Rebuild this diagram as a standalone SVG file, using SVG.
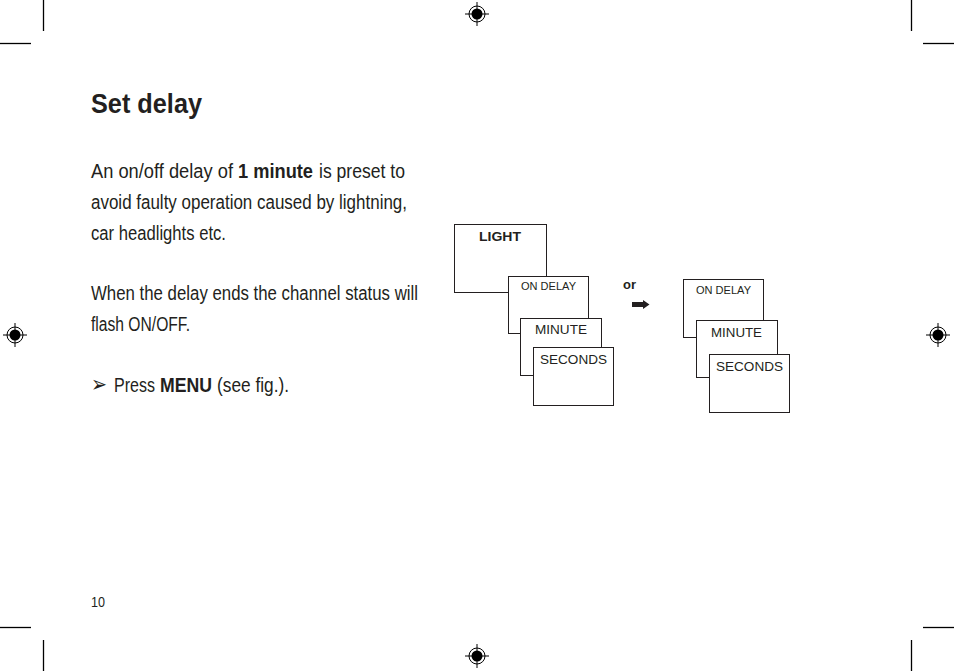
<svg xmlns="http://www.w3.org/2000/svg" width="954" height="671" viewBox="0 0 954 671">
<style>
.crop{stroke:#000;stroke-width:1.3;fill:none}
.body{font-family:"Liberation Sans",Arial,sans-serif;font-size:19.5px;fill:#231f20}
.b{font-weight:bold}
.box{fill:#fff;stroke:#231f20;stroke-width:1}
.lbl{font-family:"Liberation Sans",Arial,sans-serif;fill:#231f20}
</style>
<defs>
<g id="reg">
<circle cx="0" cy="0" r="8" fill="none" stroke="#000" stroke-width="1"/>
<circle cx="0" cy="0" r="5.5" fill="#000"/>
<line x1="-12" y1="0" x2="12" y2="0" stroke="#000" stroke-width="1"/>
<line x1="0" y1="-12" x2="0" y2="12" stroke="#000" stroke-width="1"/>
</g>
</defs>
<rect width="954" height="671" fill="#fff"/>
<g id="cropmarks">
<line class="crop" x1="43.5" y1="0" x2="43.5" y2="31"/>
<line class="crop" x1="0" y1="43.5" x2="31" y2="43.5"/>
<line class="crop" x1="911.5" y1="0" x2="911.5" y2="31"/>
<line class="crop" x1="923" y1="43.5" x2="954" y2="43.5"/>
<line class="crop" x1="0" y1="627.5" x2="31" y2="627.5"/>
<line class="crop" x1="43.5" y1="640" x2="43.5" y2="671"/>
<line class="crop" x1="923" y1="627.5" x2="954" y2="627.5"/>
<line class="crop" x1="911.5" y1="640" x2="911.5" y2="671"/>
<use href="#reg" x="477" y="14"/>
<use href="#reg" x="477" y="656"/>
<use href="#reg" x="15" y="335"/>
<use href="#reg" x="938" y="335"/>
</g>
<g id="text">
<text x="91" y="113" class="body b" style="font-size:28px" textLength="111" lengthAdjust="spacingAndGlyphs">Set delay</text>
<text class="body" y="178"><tspan x="91" textLength="142" lengthAdjust="spacingAndGlyphs">An on/off delay of</tspan><tspan x="238" class="b" textLength="75" lengthAdjust="spacingAndGlyphs">1 minute</tspan><tspan x="319" textLength="86" lengthAdjust="spacingAndGlyphs">is preset to</tspan></text>
<text class="body" x="91" y="209" textLength="316" lengthAdjust="spacingAndGlyphs">avoid faulty operation caused by lightning,</text>
<text class="body" x="91" y="240" textLength="135" lengthAdjust="spacingAndGlyphs">car headlights etc.</text>
<text class="body" x="91" y="300" textLength="327" lengthAdjust="spacingAndGlyphs">When the delay ends the channel status will</text>
<text class="body" x="91" y="331" textLength="99" lengthAdjust="spacingAndGlyphs">flash ON/OFF.</text>
<text x="91" y="392" font-family="DejaVu Sans,sans-serif" font-size="23" fill="#231f20" textLength="16" lengthAdjust="spacingAndGlyphs">➢</text>
<text class="body" y="392"><tspan x="114" textLength="41" lengthAdjust="spacingAndGlyphs">Press</tspan><tspan x="160" class="b" textLength="52" lengthAdjust="spacingAndGlyphs">MENU</tspan><tspan x="217" textLength="72" lengthAdjust="spacingAndGlyphs">(see fig.).</tspan></text>
<text class="body" x="91" y="607" style="font-size:15px" textLength="14" lengthAdjust="spacingAndGlyphs">10</text>
</g>
<g id="light">
<rect class="box" x="454.5" y="224.5" width="92" height="68"/>
<text class="lbl b" x="479" y="241" font-size="12.5" textLength="42" lengthAdjust="spacingAndGlyphs">LIGHT</text>
</g>
<g id="ondelay1">
<rect class="box" x="508.5" y="276.5" width="80" height="57"/>
<text class="lbl" x="521" y="290" font-size="10.5" textLength="55" lengthAdjust="spacingAndGlyphs">ON DELAY</text>
</g>
<g id="minute1">
<rect class="box" x="520.5" y="318.5" width="81" height="57"/>
<text class="lbl" x="535" y="334" font-size="13" textLength="52" lengthAdjust="spacingAndGlyphs">MINUTE</text>
</g>
<g id="seconds1">
<rect class="box" x="533.5" y="347.5" width="80" height="58"/>
<text class="lbl" x="540" y="364" font-size="13" textLength="67" lengthAdjust="spacingAndGlyphs">SECONDS</text>
</g>
<g id="or">
<text class="lbl b" x="623" y="289" font-size="12.5" textLength="13" lengthAdjust="spacingAndGlyphs">or</text>
</g>
<g id="connectors">
<polygon points="632,302 643,302 643,300 649.5,304.5 643,309 643,307 632,307" fill="#231f20"/>
</g>
<g id="ondelay2">
<rect class="box" x="683.5" y="279.5" width="80" height="58"/>
<text class="lbl" x="696" y="294" font-size="10.5" textLength="55" lengthAdjust="spacingAndGlyphs">ON DELAY</text>
</g>
<g id="minute2">
<rect class="box" x="696.5" y="320.5" width="81" height="57"/>
<text class="lbl" x="711" y="337" font-size="13" textLength="51" lengthAdjust="spacingAndGlyphs">MINUTE</text>
</g>
<g id="seconds2">
<rect class="box" x="709.5" y="354.5" width="80" height="58"/>
<text class="lbl" x="716" y="371" font-size="13" textLength="67" lengthAdjust="spacingAndGlyphs">SECONDS</text>
</g>
</svg>
